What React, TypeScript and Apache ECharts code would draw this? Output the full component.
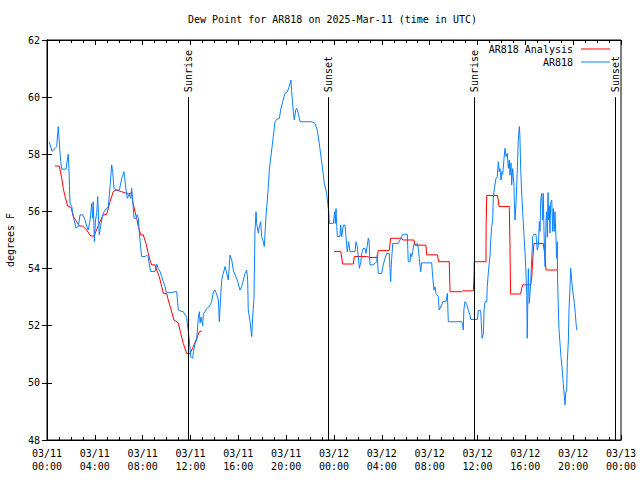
import React, { useEffect, useRef } from "react";
import * as echarts from "echarts";

const TITLE = "Dew Point for AR818 on 2025-Mar-11 (time in UTC)";
const Y_NAME = "degrees F";
const SERIES_NAMES = ["AR818 Analysis", "AR818"];

const xTickLabels = [
  "03/11\n00:00", "03/11\n04:00", "03/11\n08:00", "03/11\n12:00", "03/11\n16:00", "03/11\n20:00",
  "03/12\n00:00", "03/12\n04:00", "03/12\n08:00", "03/12\n12:00", "03/12\n16:00", "03/12\n20:00",
  "03/13\n00:00",
];

// sunrise / sunset times, hours since 03/11 00:00 UTC
const sunTimes = [11.75, 23.53, 35.72, 47.5];
const sunLabels = ["Sunrise", "Sunset", "Sunrise", "Sunset"];

// [hours since 03/11 00:00 UTC, dew point F]
const analysisDay1: [number, number][] = [
  [0.67, 57.59], [1.03, 57.59], [1.23, 57.16], [1.36, 56.81], [1.51, 56.52], [1.73, 56.19],
  [2.01, 56.14], [2.2, 55.82], [2.48, 55.64], [2.7, 55.49], [2.99, 55.49], [3.32, 55.35],
  [3.65, 55.14], [3.93, 55.14], [4.16, 55.37], [4.43, 55.64], [4.71, 55.88], [4.99, 55.9],
  [5.27, 56.34], [5.54, 56.69], [5.77, 56.75], [6.25, 56.69], [6.8, 56.61], [7.08, 56.66],
  [7.17, 56.34], [7.36, 55.99], [7.5, 55.76], [7.64, 55.47], [7.84, 55.18], [8.05, 55.18],
  [8.28, 54.88], [8.47, 54.53], [8.61, 54.3], [8.75, 54.13], [9.03, 54.13], [9.17, 53.95],
  [9.39, 53.72], [9.59, 53.37], [9.73, 53.13], [10.01, 53.13], [10.14, 52.9], [10.34, 52.61],
  [10.62, 52.2], [10.98, 52.1], [11.18, 51.73], [11.4, 51.38], [11.68, 51.03], [11.96, 51.03],
  [12.1, 51.15], [12.23, 51.27], [12.52, 51.56], [12.74, 51.79], [12.94, 51.82],
];

const analysisDay2: [number, number][] = [
  [24.0, 54.6], [24.56, 54.6], [24.64, 54.4], [24.73, 54.16], [25.61, 54.16], [25.7, 54.42],
  [26.73, 54.42], [27.01, 54.39], [27.62, 54.39], [27.7, 54.63], [28.62, 54.63], [28.74, 55.06],
  [29.66, 55.06], [29.75, 55.0], [30.69, 55.0], [30.78, 54.82], [31.69, 54.82], [31.75, 54.48],
  [32.64, 54.48], [32.76, 54.24], [33.64, 54.24], [33.7, 53.19], [34.68, 53.19], [34.76, 53.22],
  [35.65, 53.22], [35.71, 53.74], [35.73, 54.24], [36.71, 54.24], [36.72, 55.44], [36.77, 56.56],
  [37.66, 56.56], [37.74, 56.4], [37.8, 56.17], [38.66, 56.17], [38.72, 54.65], [38.77, 53.11],
  [39.61, 53.11], [39.7, 53.31], [39.78, 53.43], [40.45, 53.43], [40.53, 53.66], [40.62, 54.3],
  [40.72, 54.88], [41.5, 54.88], [41.65, 54.42], [41.73, 53.95], [42.67, 53.95],
];

const observed: [number, number][] = [
  [0.19, 58.44], [0.42, 58.1], [0.67, 58.2], [0.81, 58.27], [0.94, 58.97], [1.09, 58.04],
  [1.15, 57.74], [1.23, 57.48], [1.59, 57.48], [1.7, 57.8], [1.78, 58.0], [1.86, 57.17],
  [1.92, 56.29], [2.07, 56.17], [2.2, 55.82], [2.43, 55.42], [2.62, 55.47], [2.76, 55.88],
  [2.99, 55.88], [3.18, 55.7], [3.32, 55.49], [3.45, 55.35], [3.6, 55.7], [3.74, 56.28],
  [3.82, 55.76], [3.87, 56.34], [3.96, 54.94], [4.06, 55.7], [4.16, 55.94], [4.24, 56.52],
  [4.37, 55.18], [4.52, 55.58], [4.66, 55.88], [4.85, 56.05], [5.13, 56.17], [5.27, 56.87],
  [5.41, 57.63], [5.49, 57.4], [5.6, 56.81], [5.77, 56.75], [6.05, 56.75], [6.25, 57.16],
  [6.44, 57.39], [6.61, 56.75], [6.72, 56.46], [6.88, 56.6], [7.0, 56.46], [7.08, 56.81],
  [7.17, 56.34], [7.28, 55.76], [7.44, 55.76], [7.55, 55.88], [7.64, 55.76], [7.72, 55.23],
  [7.84, 54.71], [7.92, 54.42], [8.2, 54.42], [8.34, 54.47], [8.45, 54.42], [8.66, 53.9],
  [9.03, 53.9], [9.17, 54.16], [9.3, 54.0], [9.45, 53.9], [9.59, 53.72], [9.73, 53.54],
  [9.87, 53.37], [9.95, 53.19], [10.14, 53.16], [10.43, 53.16], [10.7, 53.19], [10.85, 53.19],
  [10.98, 52.55], [11.12, 52.52], [11.4, 52.49], [11.54, 52.38], [11.68, 52.29], [11.73, 52.08],
  [11.82, 51.8], [11.9, 51.5], [12.02, 50.92], [12.18, 50.86], [12.25, 51.1], [12.38, 51.38],
  [12.52, 51.5], [12.65, 52.26], [12.74, 52.49], [12.8, 52.1], [12.88, 52.3], [13.02, 52.0],
  [13.07, 52.4], [13.21, 52.49], [13.36, 52.6], [13.57, 52.67], [13.77, 52.84], [13.91, 53.19],
  [14.05, 53.25], [14.19, 53.1], [14.33, 52.9], [14.41, 52.14], [14.51, 52.9], [14.61, 53.6],
  [14.74, 53.83], [14.89, 54.07], [15.03, 53.83], [15.16, 53.6], [15.24, 54.07], [15.3, 54.47],
  [15.45, 54.3], [15.58, 53.95], [15.72, 53.78], [15.91, 53.6], [16.14, 53.25], [16.28, 53.37],
  [16.42, 53.6], [16.56, 53.83], [16.7, 53.95], [16.78, 53.6], [16.83, 52.55], [16.98, 52.14],
  [17.12, 51.62], [17.2, 52.3], [17.31, 52.96], [17.39, 55.29], [17.48, 55.99], [17.53, 55.58],
  [17.67, 55.24], [17.77, 55.5], [17.87, 55.64], [17.95, 55.12], [18.09, 54.94], [18.17, 54.77],
  [18.31, 55.82], [18.42, 56.4], [18.51, 56.87], [18.59, 57.45], [18.79, 58.15], [18.92, 58.62],
  [19.07, 59.14], [19.21, 59.22], [19.43, 59.26], [19.54, 59.55], [19.71, 59.84], [19.9, 60.13],
  [20.1, 60.19], [20.26, 60.37], [20.4, 60.6], [20.46, 60.2], [20.6, 59.49], [20.68, 59.2],
  [20.8, 59.55], [20.88, 59.61], [21.02, 59.43], [21.16, 59.14], [21.72, 59.14], [22.14, 59.14],
  [22.41, 59.08], [22.6, 58.85], [22.77, 58.38], [22.91, 57.92], [23.06, 57.45], [23.19, 56.98],
  [23.39, 56.63], [23.47, 56.28], [23.56, 55.99], [23.61, 55.58], [23.81, 55.58], [23.94, 55.58],
  [24.06, 55.99], [24.11, 55.58], [24.17, 56.1], [24.23, 55.47], [24.28, 55.12], [24.5, 55.12],
  [24.56, 55.52], [24.64, 55.12], [24.73, 55.35], [24.78, 55.52], [24.92, 55.52], [25.0, 55.12],
  [25.11, 54.59], [25.23, 54.94], [25.34, 54.59], [25.76, 54.59], [25.84, 54.94], [25.95, 54.76],
  [26.03, 54.42], [26.12, 54.01], [26.23, 54.2], [26.32, 54.53], [26.45, 54.71], [26.59, 54.71],
  [26.68, 54.53], [26.79, 54.82], [26.87, 55.06], [26.93, 55.0], [27.01, 54.13], [27.24, 54.13],
  [27.43, 54.18], [27.57, 54.24], [27.62, 54.48], [27.7, 53.83], [27.99, 53.83], [28.12, 54.13],
  [28.27, 54.36], [28.41, 54.53], [28.62, 54.53], [28.68, 54.01], [28.74, 53.54], [28.79, 54.13],
  [28.91, 54.88], [29.38, 54.88], [29.75, 55.2], [30.13, 55.2], [30.21, 54.24], [30.36, 54.24],
  [30.42, 54.53], [30.5, 54.42], [30.58, 54.59], [30.69, 54.88], [30.86, 54.82], [30.97, 54.88],
  [31.05, 54.7], [31.13, 54.36], [31.25, 53.89], [31.33, 54.2], [32.17, 54.2], [32.25, 53.72],
  [32.36, 53.25], [32.44, 53.36], [32.53, 53.13], [32.72, 53.02], [32.8, 52.55], [33.0, 52.72],
  [33.09, 52.84], [33.36, 52.84], [33.48, 53.13], [33.56, 52.14], [34.68, 52.14], [34.76, 52.03],
  [34.81, 51.85], [34.86, 52.55], [34.95, 52.84], [35.09, 52.75], [35.23, 52.55], [35.37, 52.38],
  [35.43, 52.22], [35.71, 52.22], [35.99, 52.22], [36.07, 52.53], [36.27, 52.53], [36.32, 52.08],
  [36.38, 51.56], [36.49, 51.7], [36.55, 52.55], [36.63, 52.84], [36.77, 52.84], [36.82, 53.37],
  [36.9, 53.83], [36.98, 54.18], [37.05, 54.47], [37.11, 55.0], [37.19, 55.47], [37.27, 55.7],
  [37.32, 56.46], [37.41, 56.81], [37.55, 57.16], [37.66, 57.22], [37.74, 57.74], [37.82, 57.39],
  [37.88, 57.5], [37.97, 57.1], [38.05, 57.4], [38.11, 57.3], [38.22, 57.86], [38.3, 58.21],
  [38.39, 57.92], [38.49, 58.03], [38.58, 57.51], [38.66, 57.8], [38.72, 57.27], [38.8, 57.7],
  [38.86, 56.93], [38.94, 57.5], [39.05, 56.93], [39.08, 56.34], [39.14, 55.7], [39.22, 56.3],
  [39.33, 57.45], [39.41, 58.5], [39.5, 58.97], [39.55, 58.6], [39.61, 57.51], [39.7, 56.58],
  [39.78, 55.99], [39.83, 55.58], [39.97, 54.59], [40.03, 54.07], [40.12, 53.07], [40.16, 51.56],
  [40.25, 54.0], [40.33, 52.78], [40.45, 53.5], [40.53, 54.3], [40.62, 55.12], [40.72, 55.2],
  [40.89, 55.2], [41.0, 54.65], [41.09, 54.8], [41.17, 55.64], [41.23, 55.3], [41.29, 56.4],
  [41.37, 56.63], [41.45, 55.7], [41.5, 56.63], [41.56, 55.3], [41.65, 54.07], [41.73, 55.7],
  [41.79, 55.99], [41.84, 55.1], [41.9, 56.66], [41.95, 55.7], [42.0, 56.2], [42.06, 55.24],
  [42.12, 56.3], [42.21, 56.4], [42.29, 55.3], [42.34, 56.1], [42.42, 55.3], [42.48, 55.99],
  [42.56, 55.12], [42.62, 54.36], [42.67, 54.94], [42.7, 53.54], [42.81, 51.91], [42.9, 51.38],
  [42.98, 50.92], [43.09, 50.45], [43.17, 49.98], [43.26, 49.52], [43.32, 49.23], [43.38, 49.69],
  [43.46, 49.7], [43.51, 50.74], [43.6, 51.5], [43.65, 52.55], [43.74, 53.37], [43.79, 54.01],
  [43.84, 53.78], [43.9, 53.48], [44.01, 53.07], [44.1, 52.78], [44.18, 52.43], [44.24, 52.08],
  [44.3, 51.85],
];

const FONT = "'DejaVu Sans Mono', 'Liberation Mono', monospace";
const RED = "#ff0000";
const BLUE = "#0a80ff";

export default function App() {
  const ref = useRef<HTMLDivElement>(null);

  useEffect(() => {
    if (!ref.current) return;
    const chart = echarts.init(ref.current, null, { renderer: "svg" });

    const xAxisBase = {
      type: "value" as const,
      min: 0,
      max: 48,
      interval: 4,
      axisLine: { show: true, lineStyle: { color: "#000", width: 1 } },
      axisTick: { show: true, inside: true, length: 5, lineStyle: { color: "#000" } },
      minorTick: { show: true, splitNumber: 4, length: 3, lineStyle: { color: "#000" } },
      splitLine: { show: false },
      minorSplitLine: { show: false },
    };
    const yAxisBase = {
      type: "value" as const,
      min: 48,
      max: 62,
      interval: 2,
      axisLine: { show: true, lineStyle: { color: "#000", width: 1 } },
      axisTick: { show: true, inside: true, length: 5, lineStyle: { color: "#000" } },
      splitLine: { show: false },
    };

    const analysisData: (number | null)[][] = [
      ...analysisDay1,
      [18, null],
      ...analysisDay2,
    ];

    const legendBase = {
      right: 30,
      orient: "horizontal" as const,
      align: "right" as const,
      itemWidth: 29,
      itemHeight: 1,
      icon: "rect",
      padding: 0,
      selectedMode: false,
      textStyle: { fontFamily: FONT, fontSize: 10, color: "#000", padding: [0, 3, 0, 0] },
    };

    chart.setOption({
      animation: false,
      backgroundColor: "#fff",
      title: {
        text: TITLE,
        left: 188,
        top: 14,
        padding: 0,
        textStyle: { fontFamily: FONT, fontSize: 10, fontWeight: "normal", color: "#000" },
      },
      legend: [
        { ...legendBase, top: 44, data: [SERIES_NAMES[0]] },
        { ...legendBase, top: 57, data: [SERIES_NAMES[1]] },
      ],
      grid: {
        left: 47,
        right: 19,
        top: 40,
        bottom: 40,
        show: true,
        borderColor: "#000",
        borderWidth: 1,
        backgroundColor: "transparent",
        containLabel: false,
        outerBoundsMode: "none",
      },
      xAxis: [
        {
          ...xAxisBase,
          position: "bottom",
          axisLabel: {
            show: true,
            margin: 7,
            fontFamily: FONT,
            fontSize: 10,
            color: "#000",
            lineHeight: 13,
            formatter: (v: number) => xTickLabels[Math.round(v / 4)] ?? "",
          },
        },
        { ...xAxisBase, position: "top", axisLabel: { show: false } },
      ],
      yAxis: [
        {
          ...yAxisBase,
          position: "left",
          axisLabel: { show: true, margin: 7, fontFamily: FONT, fontSize: 10, color: "#000" },
        },
        { ...yAxisBase, position: "right", axisLabel: { show: false } },
      ],
      graphic: [
        {
          type: "text",
          x: 10,
          y: 240,
          rotation: Math.PI / 2,
          style: {
            text: Y_NAME,
            fill: "#000",
            font: `10px ${FONT}`,
            textAlign: "center",
            textVerticalAlign: "middle",
          },
          silent: true,
        },
      ],
      series: [
        {
          name: SERIES_NAMES[0],
          type: "line",
          data: analysisData,
          showSymbol: false,
          symbol: "none",
          connectNulls: false,
          lineStyle: { color: RED, width: 1 },
          itemStyle: { color: RED },
          silent: true,
          z: 2,
        },
        {
          name: SERIES_NAMES[1],
          type: "line",
          data: observed,
          showSymbol: false,
          symbol: "none",
          lineStyle: { color: BLUE, width: 1 },
          itemStyle: { color: BLUE },
          silent: true,
          z: 3,
        },
        {
          type: "custom",
          silent: true,
          z: 4,
          data: sunTimes.map((t, i) => [t, i]),
          renderItem: (_params: any, api: any) => {
            const t = api.value(0);
            const idx = api.value(1);
            const p0 = api.coord([t, 48]);
            const p1 = api.coord([t, 60]);
            const x = Math.round(p0[0]) + 0.5;
            return {
              type: "group",
              children: [
                {
                  type: "line",
                  shape: { x1: x, y1: p0[1], x2: x, y2: p1[1] },
                  style: { stroke: "#000", lineWidth: 1 },
                },
                {
                  type: "text",
                  x: x,
                  y: p1[1] - 5,
                  rotation: Math.PI / 2,
                  style: {
                    text: sunLabels[idx],
                    fill: "#000",
                    font: `10px ${FONT}`,
                    textAlign: "left",
                    textVerticalAlign: "middle",
                  },
                },
              ],
            };
          },
        },
      ],
    });

    return () => chart.dispose();
  }, []);

  return <div ref={ref} style={{ width: 640, height: 480, position: "absolute", left: 0, top: 0 }} />;
}
